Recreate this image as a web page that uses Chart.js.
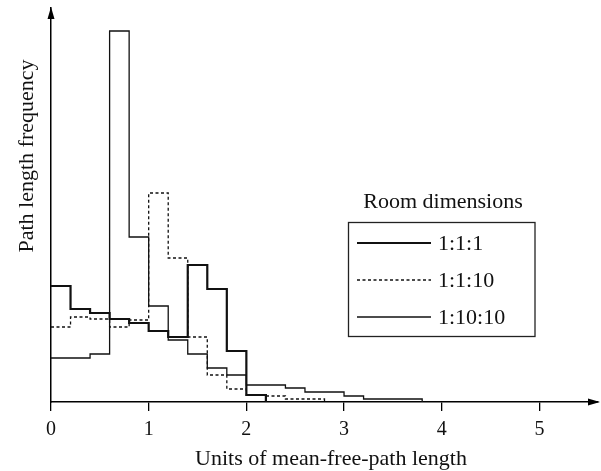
<!DOCTYPE html>
<html>
<head>
<meta charset="utf-8">
<title>Path length frequency</title>
<script src="https://cdn.jsdelivr.net/npm/chart.js@4.4.1/dist/chart.umd.min.js"></script>
<style>
  html, body { margin: 0; padding: 0; background: #fff; }
  #wrap { width: 601px; height: 471px; }
</style>
</head>
<body>
<div id="wrap"><canvas id="myChart" width="601" height="471"></canvas></div>
<script>
"use strict"

// left edges of the histogram bins, in units of mean free path
const binEdges = [0, 0.2, 0.4, 0.6, 0.8, 1.0, 1.2, 1.4, 1.6, 1.8, 2.0, 2.2, 2.4, 2.6, 2.8, 3.0, 3.2, 3.4, 3.6, 3.8];

// bin heights for each room shape
const room111 = [11.6, 9.3, 8.9, 8.3, 7.9, 7.1, 6.5, 13.7, 11.3, 5.1, 0.7];
const room1110 = [7.5, 8.5, 8.3, 7.5, 8.2, 20.9, 14.4, 6.5, 2.7, 1.3, 0.7, 0.6, 0.3, 0.3];
const room11010 = [4.4, 4.4, 4.8, 37.1, 16.5, 9.6, 6.2, 4.8, 3.4, 2.7, 1.7, 1.7, 1.4, 1.0, 1.0, 0.6, 0.3, 0.3, 0.3];

const seriesLabels = ['1:1:1', '1:1:10', '1:10:10'];
const xTicks = [0, 1, 2, 3, 4, 5];

const legendTitle = 'Room dimensions';
const xTitle = 'Units of mean-free-path length';
const yTitle = 'Path length frequency';

const serif = '"Liberation Serif", "Times New Roman", serif';
const ink = '#111';

// turn bin heights into step points, closing the last bin down to zero
function toSteps(values) {
  const points = values.map((v, i) => ({ x: binEdges[i], y: v }));
  points.push({ x: binEdges[values.length], y: 0 });
  return points;
}

function histDataset(label, values, width, dash) {
  return {
    label: label,
    data: toSteps(values),
    borderColor: ink,
    borderWidth: width,
    borderDash: dash,
    stepped: true,
    fill: false,
    pointRadius: 0,
    tension: 0
  };
}

// axis arrows, axis titles and the boxed legend
const decorations = {
  id: 'decorations',
  afterDraw(chart) {
    const ctx = chart.ctx;
    const area = chart.chartArea;
    ctx.save();
    ctx.fillStyle = '#000';

    // arrow on top of the y axis
    ctx.beginPath();
    ctx.moveTo(area.left, area.top - 1);
    ctx.lineTo(area.left - 3.5, area.top + 11);
    ctx.lineTo(area.left + 3.5, area.top + 11);
    ctx.closePath();
    ctx.fill();

    // arrow at the right end of the x axis
    ctx.beginPath();
    ctx.moveTo(area.right + 2, area.bottom);
    ctx.lineTo(area.right - 10, area.bottom - 3.5);
    ctx.lineTo(area.right - 10, area.bottom + 3.5);
    ctx.closePath();
    ctx.fill();

    ctx.fillStyle = ink;
    ctx.font = '22px ' + serif;
    ctx.textAlign = 'center';
    ctx.textBaseline = 'middle';
    ctx.fillText(xTitle, 331, 459);

    ctx.save();
    ctx.translate(27, 156);
    ctx.rotate(-Math.PI / 2);
    ctx.fillText(yTitle, 0, 0);
    ctx.restore();

    // legend
    ctx.fillText(legendTitle, 443, 202);
    ctx.strokeStyle = '#222';
    ctx.lineWidth = 1.3;
    ctx.strokeRect(348.5, 222.5, 186.5, 114);

    const rows = [243, 280, 317];
    chart.data.datasets.forEach((ds, i) => {
      ctx.strokeStyle = ink;
      ctx.lineWidth = ds.borderWidth;
      ctx.setLineDash(ds.borderDash || []);
      ctx.beginPath();
      ctx.moveTo(357, rows[i]);
      ctx.lineTo(431, rows[i]);
      ctx.stroke();
      ctx.setLineDash([]);
      ctx.textAlign = 'left';
      ctx.fillText(ds.label, 438, rows[i] + 1);
    });
    ctx.restore();
  }
};

const ctx = document.getElementById('myChart').getContext('2d');
const myChart = new Chart(ctx, {
  type: 'line',
  data: {
    datasets: [
      histDataset(seriesLabels[0], room111, 2.2, []),
      histDataset(seriesLabels[1], room1110, 1.3, [3, 2.5]),
      histDataset(seriesLabels[2], room11010, 1.3, [])
    ]
  },
  options: {
    responsive: false,
    animation: false,
    layout: { padding: { top: 8, right: 3, left: 0, bottom: 0 } },
    plugins: {
      legend: { display: false },
      tooltip: { enabled: false }
    },
    scales: {
      x: {
        type: 'linear',
        min: 0,
        max: 5.6,
        afterBuildTicks: scale => { scale.ticks = xTicks.map(v => ({ value: v })); },
        afterFit: scale => { scale.height = 69; },
        ticks: {
          color: ink,
          padding: 7,
          font: { family: serif, size: 20 }
        },
        grid: {
          drawOnChartArea: false,
          drawTicks: true,
          tickLength: 9,
          color: '#000',
          lineWidth: 1.3
        },
        border: { display: true, color: '#000', width: 1.5 }
      },
      y: {
        min: 0,
        max: 39.4,
        afterFit: scale => { scale.width = 51; },
        ticks: { display: false },
        grid: { display: false },
        border: { display: true, color: '#000', width: 1.5 }
      }
    }
  },
  plugins: [decorations]
});
</script>
</body>
</html>
